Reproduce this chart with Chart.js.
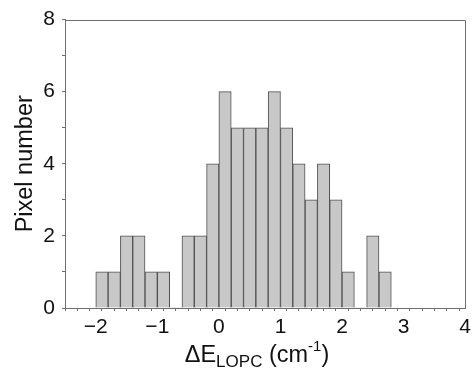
<!DOCTYPE html>
<html><head><meta charset="utf-8">
<script src="https://cdn.jsdelivr.net/npm/chart.js@4"></script>
<style>html,body{margin:0;padding:0;background:#fff}#wrap{width:475px;height:374px;position:relative}</style>
</head><body><div id="wrap"><canvas id="c" width="475" height="374"></canvas></div>
<script>
// Histogram bins (centres, width 0.2 cm^-1) and counts
const binCenters = [-1.9,-1.7,-1.5,-1.3,-1.1,-0.9,-0.7,-0.5,-0.3,-0.1,0.1,0.3,0.5,0.7,0.9,1.1,1.3,1.5,1.7,1.9,2.1,2.3,2.5,2.7];
const pixelCounts = [1,1,2,2,1,1,0,2,2,4,6,5,5,5,6,5,4,3,4,3,1,0,2,1];
const xTickLabels = [-2,-1,0,1,2,3,4];
const yTickLabels = [0,2,4,6,8];

const FONT = "'Liberation Sans', Arial, sans-serif";
const AX = '#6e6e6e';

const boxPlugin = {
  id: 'box',
  afterDraw(chart) {
    const {ctx, chartArea: a} = chart;
    ctx.save();
    ctx.strokeStyle = AX; ctx.lineWidth = 1;
    ctx.beginPath();
    ctx.moveTo(Math.round(a.left), Math.round(a.top) + 0.5);
    ctx.lineTo(Math.round(a.right) + 0.5, Math.round(a.top) + 0.5);
    ctx.lineTo(Math.round(a.right) + 0.5, Math.round(a.bottom));
    ctx.stroke();
    // x-axis title with subscript / superscript
    const cx = 257, base = 362;
    const parts = [
      {t: '\u0394E', s: 23.5, dy: 0},
      {t: 'LOPC', s: 17, dy: 5},
      {t: ' (cm', s: 23.5, dy: 0},
      {t: '-1', s: 15, dy: -11},
      {t: ')', s: 23.5, dy: 0}
    ];
    let w = 0;
    parts.forEach(p => { ctx.font = p.s + 'px ' + FONT; p.w = ctx.measureText(p.t).width; w += p.w; });
    let x = cx - w / 2;
    ctx.fillStyle = '#111'; ctx.textBaseline = 'alphabetic'; ctx.textAlign = 'left';
    parts.forEach(p => { ctx.font = p.s + 'px ' + FONT; ctx.fillText(p.t, x, base + p.dy); x += p.w; });
    ctx.restore();
  }
};

new Chart(document.getElementById('c'), {
  type: 'bar',
  data: {
    datasets: [{
      data: binCenters.map((x, i) => ({x: x, y: pixelCounts[i]})),
      backgroundColor: '#c8c8c8',
      borderColor: '#505050',
      borderWidth: ctx => (ctx.raw && ctx.raw.y ? 1 : 0),
      borderSkipped: 'start',
      barPercentage: 1,
      categoryPercentage: 1
    }]
  },
  options: {
    responsive: false,
    animation: false,
    events: [],
    layout: {padding: {top: 18, right: 5, left: 0, bottom: 0}},
    plugins: {legend: {display: false}, tooltip: {enabled: false}},
    scales: {
      x: {
        type: 'linear', min: -2.5, max: 4, offset: false,
        afterFit: s => { s.height = 66; },
        ticks: {
          stepSize: 0.2, includeBounds: false, autoSkip: false, maxRotation: 0,
          padding: 4, color: '#111', font: {family: FONT, size: 21},
          callback: v => {
            const r = Math.round(v);
            if (Math.abs(v - r) > 1e-6 || !xTickLabels.includes(r)) return '';
            return r < 0 ? '\u2212' + Math.abs(r) : String(r);
          }
        },
        grid: {display: true, drawOnChartArea: false, drawTicks: true, tickLength: 3, color: AX},
        border: {display: true, color: AX, width: 1}
      },
      y: {
        min: 0, max: 8,
        afterFit: s => { s.width = 65; },
        ticks: {
          stepSize: 1, padding: 7, color: '#111', font: {family: FONT, size: 21},
          callback: v => (yTickLabels.includes(v) ? String(v) : '')
        },
        title: {display: true, text: 'Pixel number', color: '#111', font: {family: FONT, size: 23.5}, padding: {top: 11, bottom: 0}},
        grid: {display: true, drawOnChartArea: false, drawTicks: true, tickLength: 3, color: AX},
        border: {display: true, color: AX, width: 1}
      }
    }
  },
  plugins: [boxPlugin]
});
</script></body></html>
